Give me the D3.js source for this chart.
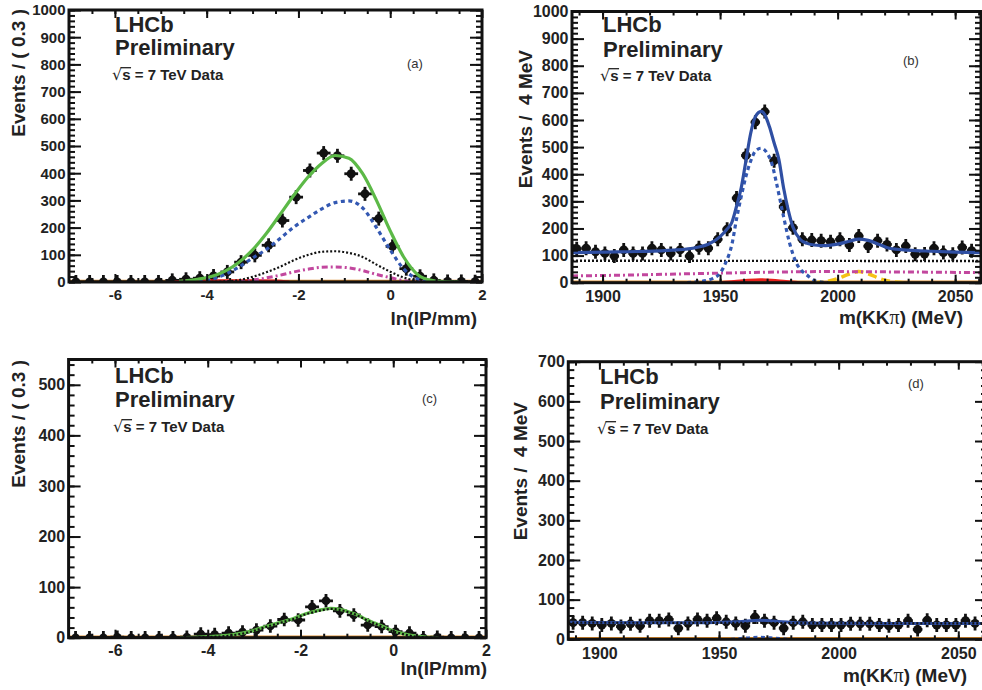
<!DOCTYPE html>
<html><head><meta charset="utf-8">
<script src="https://cdn.jsdelivr.net/npm/d3@7"></script>
<style>
body{margin:0;background:#fff;}
svg text{font-family:"Liberation Sans",Arial,Helvetica,sans-serif;}
</style></head><body>
<svg id="c" width="982" height="690"></svg>
<script>
// ---------------- DATA ----------------
const ipBins = [-6.85,-6.55,-6.25,-5.95,-5.65,-5.35,-5.05,-4.75,-4.45,-4.15,-3.85,-3.55,-3.25,-2.95,-2.65,-2.35,-2.05,-1.75,-1.45,-1.15,-0.85,-0.55,-0.25,0.05,0.35,0.65,0.95,1.25,1.55,1.85];
const massBins = [1889,1893,1897,1901,1905,1909,1913,1917,1921,1925,1929,1933,1937,1941,1945,1949,1953,1957,1961,1965,1969,1973,1977,1981,1985,1989,1993,1997,2001,2005,2009,2013,2017,2021,2025,2029,2033,2037,2041,2045,2049,2053,2057];

const aCounts = [0,0,0,0,0,0,0,6,10,14,22,37,73,98,135,226,312,410,474,464,398,324,233,131,49,21,6,2,2,1];
const bCounts = [125,127,114,108,98,121,108,108,127,121,108,121,98,129,127,160,197,312,469,592,631,450,280,203,160,157,155,151,160,139,172,135,155,141,121,135,105,106,127,111,105,130,118];
const cCounts = [0,0,0,1,0,0,0,0,1,7,6,9,11,15,23,36,35,61,73,53,45,25,22,12,9,0,1,0,0,0];
const dCounts = [42,42,40,36,40,32,39,34,47,47,50,28,40,50,47,53,44,40,34,56,47,42,28,42,44,36,36,36,36,39,39,39,36,34,36,47,25,48,36,36,36,47,40];

// fit components, (x, value)
const aTotal  = [[-4.6,2],[-4.2,10],[-3.9,20],[-3.6,40],[-3.3,72],[-3.0,118],[-2.7,178],[-2.4,248],[-2.1,319],[-1.8,384],[-1.5,435],[-1.2,465],[-0.9,455],[-0.6,398],[-0.3,300],[0,188],[0.3,90],[0.6,27],[0.9,6],[1.2,1],[1.5,0]];
const aSignal = [[-4.5,0],[-4.2,2],[-3.9,10],[-3.6,28],[-3.3,55],[-3.0,88],[-2.7,120],[-2.4,160],[-2.1,202],[-1.8,236],[-1.5,268],[-1.2,292],[-0.9,298],[-0.6,272],[-0.3,200],[0,118],[0.3,47],[0.6,11],[0.9,1],[1.2,0]];
const aComb   = [[-3.9,0],[-3.6,2],[-3.3,7],[-3.0,19],[-2.7,36],[-2.4,56],[-2.1,80],[-1.8,99],[-1.5,111],[-1.2,113],[-0.9,107],[-0.6,92],[-0.3,64],[0,38],[0.3,16],[0.6,4],[0.9,0]];
const aPrompt = [[-3.6,0],[-3.3,2],[-3.0,7],[-2.7,15],[-2.4,25],[-2.1,37],[-1.8,47],[-1.5,54],[-1.2,55],[-0.9,52],[-0.6,42],[-0.3,28],[0,16],[0.3,5],[0.6,1],[0.9,0]];
const aRed    = [[-4.7,0],[-4.4,4],[-3.8,5],[-3.0,5],[-2.5,4],[-2.2,0]];

const bTotal  = [[1887,111],[1900,113],[1915,115],[1930,120],[1940,130],[1945,142],[1950,170],[1953,198],[1955,222],[1957,282],[1959,350],[1961,450],[1963,550],[1965,612],[1967.5,632],[1969,620],[1971,575],[1973,515],[1975,455],[1977,350],[1979,268],[1981,205],[1984,160],[1987,145],[1990,139],[1995,137],[2000,142],[2005,153],[2009,161],[2013,156],[2018,140],[2022,127],[2030,120],[2040,116],[2050,113],[2061,111]];
const bSignal = [[1936,0],[1940,3],[1944,8],[1947,16],[1950,35],[1952.3,72],[1955,140],[1957,235],[1959,318],[1961,392],[1963,448],[1965,485],[1967.5,496],[1970,478],[1972,440],[1974,367],[1977,244],[1979.6,145],[1982.5,72],[1985,42],[1987,28],[1991,5],[1996,0]];
const bComb   = [[1887,81],[2061,80]];
const bPrompt = [[1887,25],[1910,28],[1937,33],[1960,37],[1994,41],[2020,40],[2061,37]];
const bYellow = [[1990,0],[1995,4],[2000,15],[2005,32],[2009,41],[2013,33],[2018,15],[2023,4],[2028,0]];
const bRed    = [[1950,0],[1956,4],[1962,9],[1967,11],[1972,9],[1978,4],[1984,0]];

const cTotal  = [[-4.6,0],[-4.2,1],[-3.8,3],[-3.45,6],[-3.1,12],[-2.75,22],[-2.45,30],[-2.15,38],[-1.9,47],[-1.7,52],[-1.5,56],[-1.35,58],[-1.15,56],[-0.95,51],[-0.75,44],[-0.58,36],[-0.4,29],[-0.22,22],[-0.05,15],[0.13,10],[0.3,6],[0.5,3],[0.7,1],[1.0,0]];
const cComb   = [[-4.2,1],[-3.8,2],[-3.45,5],[-3.1,11],[-2.75,21],[-2.45,29],[-2.15,37],[-1.9,46],[-1.7,51],[-1.5,55],[-1.35,57],[-1.15,55],[-0.95,50],[-0.75,43],[-0.58,35],[-0.4,28],[-0.22,21],[-0.05,14],[0.13,9],[0.3,5],[0.5,2],[0.7,1],[1.0,0]];

const dTotal  = [[1887,43],[1920,42],[1945,42],[1958,44],[1967,48],[1975,45],[1985,41],[2020,40],[2062,40]];
const dComb   = [[1887,42],[2062,40]];
const dSignal = [[1955,0],[1961,3],[1967,5],[1973,3],[1979,0]];

// tick labels
const ipTicks = [-6,-4,-2,0,2];
const massTicks = [1900,1950,2000,2050];
const yTicks1000 = [0,100,200,300,400,500,600,700,800,900,1000];
const yTicks550 = [0,100,200,300,400,500];
const yTicks700 = [0,100,200,300,400,500,600,700];

// ---------------- DRAW ----------------
const svg = d3.select("#c");
const C = {green:"#5cb947", blue:"#2f4fa3", blueD:"#3358b2", mag:"#c2479e", yel:"#f5c216", red:"#e6201b", orange:"#d98a2c"};

function panel(p){
  const x = d3.scaleLinear().domain(p.xDom).range([p.left,p.right]);
  const y = d3.scaleLinear().domain(p.yDom).range([p.bottom,p.top]);
  const g = svg.append("g");
  const cid = "clip"+p.id;
  svg.append("clipPath").attr("id",cid).append("rect")
    .attr("x",p.left).attr("y",p.top).attr("width",p.right-p.left).attr("height",p.bottom-p.top);

  g.append("line").attr("x1",p.left).attr("x2",p.right).attr("y1",y(0)-1.5).attr("y2",y(0)-1.5)
    .attr("stroke",C.orange).attr("stroke-width",1.5);

  // data points
  const data = p.bins.map((b,i)=>({x:b,n:p.counts[i]}));
  const pg = g.append("g").attr("clip-path",`url(#${cid})`);
  pg.selectAll("line.v").data(data).join("line")
    .attr("x1",d=>x(d.x)).attr("x2",d=>x(d.x))
    .attr("y1",d=>Math.min(y(d.n+Math.sqrt(Math.max(d.n,1))), y(d.n)-p.r-2.5))
    .attr("y2",d=>Math.max(y(Math.max(d.n-Math.sqrt(d.n),0)), Math.min(y(d.n)+p.r+2.5, y(0))))
    .attr("stroke","#111").attr("stroke-width",2.8);
  pg.selectAll("line.h").data(data).join("line")
    .attr("x1",d=>x(d.x-p.bw/2)).attr("x2",d=>x(d.x+p.bw/2))
    .attr("y1",d=>y(d.n)).attr("y2",d=>y(d.n))
    .attr("stroke","#111").attr("stroke-width",2.8);
  pg.selectAll("circle").data(data).join("circle")
    .attr("cx",d=>x(d.x)).attr("cy",d=>y(d.n)).attr("r",p.r).attr("fill","#111");

  // curves
  const line = d3.line().x(d=>x(d[0])).y(d=>y(d[1])).curve(d3.curveMonotoneX);
  const cg = g.append("g").attr("clip-path",`url(#${cid})`).attr("fill","none");
  p.curves.forEach(c=>{
    cg.append("path").datum(c.d).attr("d",line)
      .attr("stroke",c.color).attr("stroke-width",c.w)
      .attr("stroke-dasharray",c.dash||null);
  });

  // axes (ticks inside on all four sides)
  const xMinor = d3.range(p.xMin[0], p.xMin[1]+1e-9, p.xMin[2]);
  const yMinor = d3.range(p.yMin[0], p.yMin[1]+1e-9, p.yMin[2]);
  const fmt = d=>String(d);
  function styleAxis(sel){
    sel.select(".domain").remove();
    sel.selectAll(".tick line").attr("stroke","#111").attr("stroke-width",2);
    sel.selectAll("text").attr("font-family","Liberation Sans, Arial, sans-serif")
      .attr("font-weight","bold").attr("font-size",p.fs).attr("fill","#222");
    sel.attr("font-family",null).attr("font-size",null);
  }
  const ax = svg.append("g");
  ax.append("g").attr("transform",`translate(0,${p.bottom})`)
    .call(d3.axisBottom(x).tickValues(xMinor).tickSize(-4).tickFormat("")).call(styleAxis);
  ax.append("g").attr("transform",`translate(0,${p.bottom})`)
    .call(d3.axisBottom(x).tickValues(p.xTicks).tickSize(-8).tickPadding(p.xPad).tickFormat(fmt)).call(styleAxis);
  ax.append("g").attr("transform",`translate(0,${p.top})`)
    .call(d3.axisTop(x).tickValues(xMinor).tickSize(-4).tickFormat("")).call(styleAxis);
  ax.append("g").attr("transform",`translate(0,${p.top})`)
    .call(d3.axisTop(x).tickValues(p.xTicks).tickSize(-8).tickFormat("")).call(styleAxis);
  ax.append("g").attr("transform",`translate(${p.left},0)`)
    .call(d3.axisLeft(y).tickValues(yMinor).tickSize(-6).tickFormat("")).call(styleAxis);
  ax.append("g").attr("transform",`translate(${p.left},0)`)
    .call(d3.axisLeft(y).tickValues(p.yTicks).tickSize(-12).tickPadding(3.5).tickFormat(fmt)).call(styleAxis);
  ax.append("g").attr("transform",`translate(${p.right},0)`)
    .call(d3.axisRight(y).tickValues(yMinor).tickSize(-6).tickFormat("")).call(styleAxis);
  ax.append("g").attr("transform",`translate(${p.right},0)`)
    .call(d3.axisRight(y).tickValues(p.yTicks).tickSize(-12).tickFormat("")).call(styleAxis);

  // frame
  svg.append("rect").attr("x",p.left).attr("y",p.top).attr("width",p.right-p.left).attr("height",p.bottom-p.top)
    .attr("fill","none").attr("stroke","#111").attr("stroke-width",3);

  // titles
  svg.append("text").attr("transform",`translate(${p.ytX},${p.ytY}) rotate(-90)`)
    .attr("text-anchor","end").attr("font-weight","bold").attr("font-size",19).attr("fill","#222")
    .style("white-space","pre").text(p.yTitle);
  const xt = svg.append("text").attr("x",p.xtX).attr("y",p.xtY).attr("text-anchor","end")
    .attr("font-weight","bold").attr("font-size",19).attr("fill","#222");
  p.xTitle.forEach(s=>{
    const t = xt.append("tspan").text(s.t);
    if(s.serif) t.attr("font-family","Liberation Serif, serif").attr("font-weight","normal").attr("font-size",20);
  });

  // LHCb labels
  svg.append("text").attr("x",p.lx).attr("y",p.ly1).attr("font-weight","bold").attr("font-size",22).attr("fill","#222").text("LHCb");
  svg.append("text").attr("x",p.lx).attr("y",p.ly2).attr("font-weight","bold").attr("font-size",22).attr("fill","#222").text("Preliminary");
  const st = svg.append("text").attr("x",p.sx).attr("y",p.ly3).attr("font-weight","bold").attr("font-size",15).attr("fill","#222");
  st.append("tspan").attr("font-weight","normal").attr("font-family","DejaVu Sans, sans-serif").attr("font-size",16).text("\u221A");
  st.append("tspan").text("s");
  st.append("tspan").text(" = 7 TeV Data");
  const n = st.node();
  const s0 = n.getStartPositionOfChar(1).x, s1 = n.getEndPositionOfChar(1).x;
  svg.append("line").attr("x1",s0-1.5).attr("x2",s1+0.5).attr("y1",p.ly3-12.3).attr("y2",p.ly3-12.3)
    .attr("stroke","#222").attr("stroke-width",1.3);
  svg.append("text").attr("x",p.tagX).attr("y",p.tagY).attr("font-family","Open Sans, DejaVu Sans, sans-serif")
    .attr("font-size",13).attr("fill","#333").text(p.tag);
}

panel({id:"a", left:69, right:482, top:10, bottom:282, xDom:[-7,2], yDom:[0,1000],
  bins:ipBins, counts:aCounts, bw:0.3, r:4.5,
  curves:[
    {d:aRed, color:C.red, w:3},
    {d:aPrompt, color:C.mag, w:3, dash:"6,3,2,3"},
    {d:aComb, color:"#111", w:2.2, dash:"2,2"},
    {d:aSignal, color:C.blueD, w:3.2, dash:"4,3.5"},
    {d:aTotal, color:C.green, w:3.2}],
  xTicks:ipTicks, xMin:[-6.5,1.5,0.5], yTicks:yTicks1000, yMin:[0,1000,20], fs:15, xPad:7,
  yTitle:"Events / ( 0.3 )", ytX:25, ytY:9, xTitle:[{t:"ln(IP/mm)"}], xtX:477, xtY:325,
  lx:115, ly1:32, ly2:55, ly3:80, sx:112, tag:"(a)", tagX:407, tagY:68});

panel({id:"b", left:572, right:981, top:11.5, bottom:282.7, xDom:[1887,2061], yDom:[0,1000],
  bins:massBins, counts:bCounts, bw:4, r:4.5,
  curves:[
    {d:bRed, color:C.red, w:3},
    {d:bYellow, color:C.yel, w:3.5, dash:"9,5"},
    {d:bPrompt, color:C.mag, w:3, dash:"6,3,2,3"},
    {d:bComb, color:"#111", w:2.4, dash:"2,2"},
    {d:bSignal, color:C.blueD, w:3.2, dash:"4,3.5"},
    {d:bTotal, color:C.blue, w:3.2}],
  xTicks:massTicks, xMin:[1890,2060,10], yTicks:yTicks1000, yMin:[0,1000,20], fs:16, xPad:8,
  yTitle:"Events /  4 MeV", ytX:531.5, ytY:50, xTitle:[{t:"m(KK"},{t:"\u03C0",serif:true},{t:") (MeV)"}], xtX:963, xtY:324,
  lx:603, ly1:32, ly2:57, ly3:81, sx:600, tag:"(b)", tagX:903, tagY:65});

panel({id:"c", left:68.6, right:486, top:359.5, bottom:637.7, xDom:[-7,2], yDom:[0,550],
  bins:ipBins, counts:cCounts, bw:0.3, r:4.3,
  curves:[
    {d:cTotal, color:C.green, w:3.2},
    {d:cComb, color:"#111", w:2.2, dash:"2,2"}],
  xTicks:ipTicks, xMin:[-6.5,1.5,0.5], yTicks:yTicks550, yMin:[0,540,20], fs:16, xPad:7,
  yTitle:"Events / ( 0.3 )", ytX:25, ytY:360, xTitle:[{t:"ln(IP/mm)"}], xtX:487, xtY:675,
  lx:115, ly1:383, ly2:407, ly3:432, sx:113, tag:"(c)", tagX:422, tagY:403});

panel({id:"d", left:568.3, right:987, top:361.7, bottom:639.3, xDom:[1887,2062], yDom:[0,700],
  bins:massBins, counts:dCounts, bw:4, r:4.5,
  curves:[
    {d:dSignal, color:C.blueD, w:3, dash:"4,3.5"},
    {d:dTotal, color:C.blue, w:3},
    {d:dComb, color:"#111", w:2.2, dash:"2,2"}],
  xTicks:massTicks, xMin:[1890,2060,10], yTicks:yTicks700, yMin:[0,700,20], fs:16, xPad:8,
  yTitle:"Events /  4 MeV", ytX:526.5, ytY:402, xTitle:[{t:"m(KK"},{t:"\u03C0",serif:true},{t:") (MeV)"}], xtX:967, xtY:682,
  lx:600, ly1:384, ly2:409, ly3:434, sx:597, tag:"(d)", tagX:908, tagY:388});
</script>
</body></html>
